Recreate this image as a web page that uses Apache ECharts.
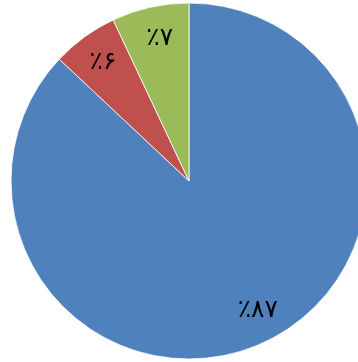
<!DOCTYPE html>
<html><head><meta charset="utf-8">
<script src="https://cdn.jsdelivr.net/npm/echarts@6/dist/echarts.min.js"></script>
<style>html,body{margin:0;padding:0;background:#fff}#c{width:358px;height:362px}</style>
</head><body><div id="c"></div>
<script>
const categories = ['A', 'B', 'C'];
const values = [87, 6, 7];
const labels = ['٪۸۷', '٪۶', '٪۷'];
const colors = ['#4F81BD', '#C0504D', '#9BBB59'];

const labelOffsets = [[10, -6], [1, 1], [3, 2]];
const chart = echarts.init(document.getElementById('c'), null, {renderer: 'canvas'});
const base = categories.map((c, i) => ({name: c, value: values[i], itemStyle: {color: colors[i]}}));
chart.setOption({
  animation: false,
  series: [
    {
      type: 'pie', center: [189, 181], radius: [0, 178], startAngle: 90, clockwise: true,
      silent: true, label: {show: false}, labelLine: {show: false},
      itemStyle: {borderColor: '#fff', borderWidth: 0.8},
      data: base
    },
    {
      type: 'pie', center: [189, 181], radius: [112, 178], startAngle: 90, clockwise: true,
      silent: true,
      itemStyle: {color: 'rgba(0,0,0,0)'},
      label: {
        show: true, position: 'inside',
        formatter: p => labels[p.dataIndex],
        color: '#000', fontSize: 25, fontFamily: 'DejaVu Sans'
      },
      labelLine: {show: false},
      data: base.map((d, i) => ({name: d.name, value: d.value, itemStyle: {color: 'rgba(0,0,0,0)'}, label: {offset: labelOffsets[i]}}))
    }
  ]
});
</script></body></html>
